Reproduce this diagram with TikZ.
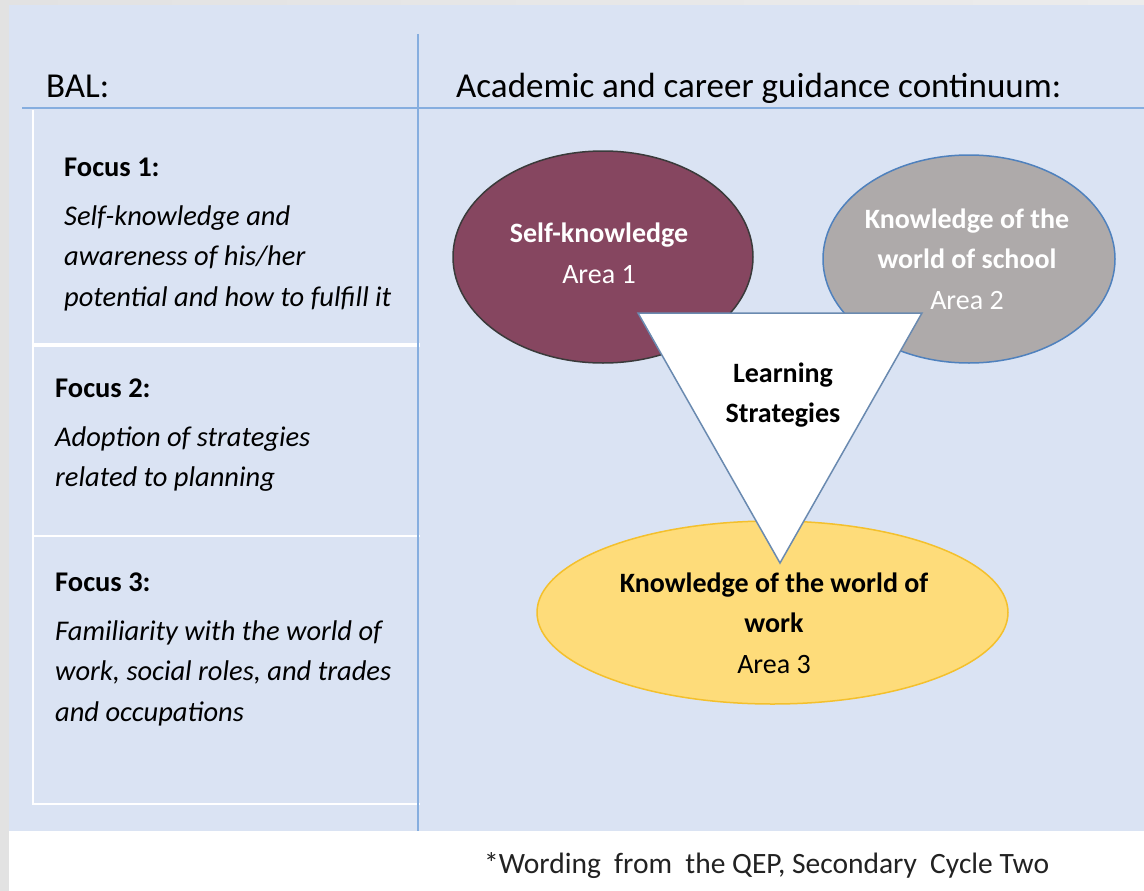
\documentclass[tikz,border=0pt]{standalone}
\usepackage{fontspec}
\setmainfont{Carlito}
\usetikzlibrary{shapes.geometric}
\definecolor{panel}{HTML}{DAE3F3}
\definecolor{outer}{HTML}{E2E2E2}
\definecolor{outerlight}{HTML}{ECECEC}
\definecolor{rulecol}{HTML}{86AEDF}
\definecolor{maroonfill}{HTML}{864660}
\definecolor{maroonedge}{HTML}{3A3A3A}
\definecolor{greyfill}{HTML}{AEAAAA}
\definecolor{greyedge}{HTML}{4F81BD}
\definecolor{yellowfill}{HTML}{FEDC7A}
\definecolor{yellowedge}{HTML}{F4C02C}
\definecolor{triedge}{HTML}{6A8AB0}
\definecolor{notecol}{HTML}{222222}
\begin{document}
\begin{tikzpicture}[x=1pt,y=-1pt,
  heading/.style={anchor=base west, font=\fontsize{35}{42}\selectfont, inner sep=0pt},
  focustitle/.style={anchor=base west, font=\bfseries\fontsize{28.5}{40.5}\selectfont, inner sep=0pt},
  focusbody/.style={anchor=base west, align=left, font=\itshape\fontsize{28.5}{40.5}\selectfont, inner sep=0pt},
  area/.style={ellipse, inner sep=0pt, line width=1.5pt},
  arealabel/.style={anchor=base, align=center, font=\fontsize{28}{40.5}\selectfont, inner sep=0pt},
  bluerule/.style={rulecol, line width=2pt},
  whiterule/.style={white, line width=2pt},
  tri/.style={fill=white, draw=triedge, line width=1.5pt, line join=miter}
]
\useasboundingbox (0,0) rectangle (1144,891);
% backgrounds
\fill[left color=outer, right color=outerlight] (0,0) rectangle (1144,891);
\fill[panel] (9,5) rectangle (1144,831);
\fill[white] (9,831) rectangle (1144,891);

% grid of the left column
\coordinate (wTL) at (33,110);
\coordinate (wBL) at (33,804);
\coordinate (w1L) at (33,345);
\coordinate (w1R) at (420,345);
\coordinate (w2L) at (33,536);
\coordinate (w2R) at (420,536);
\coordinate (w3R) at (420,804);
\draw[whiterule] (wTL) -- (wBL) -- (w3R);
\draw[white, line width=4.5pt] (w1L) -- (w1R);
\draw[whiterule] (w2L) -- (w2R);

% blue rules
\coordinate (hL) at (22,108);
\coordinate (hR) at (1144,108);
\coordinate (vT) at (418,34);
\coordinate (vB) at (418,831);
\draw[bluerule] (hL) -- (hR);
\draw[bluerule] (vT) -- (vB);

% headings
\node[heading] (bal) at (46,97) {BAL:};
\node[heading] (cont) at (456,97) {Academic and career guidance continuum:};

% focus texts (base anchor = baseline of the last line)
\node[focustitle] (f1) at (64,176) {Focus 1:};
\node[focusbody] (f1b) at (64,306) {Self-knowledge and\\awareness of his/her\\potential and how to fulfill it};
\node[focustitle] (f2) at (55,397) {Focus 2:};
\node[focusbody] (f2b) at (55,486.5) {Adoption of strategies\\related to planning};
\node[focustitle] (f3) at (55,591) {Focus 3:};
\node[focusbody] (f3b) at (55,721) {Familiarity with the world of\\work, social roles, and trades\\and occupations};

% areas
\node[area, fill=maroonfill, draw=maroonedge, minimum width=300, minimum height=212] (a1) at (603,257) {};
\node[area, fill=greyfill, draw=greyedge, minimum width=292, minimum height=208] (a2) at (969,259) {};
\node[area, fill=yellowfill, draw=yellowedge, minimum width=471, minimum height=183] (a3) at (772.5,612.5) {};

% learning strategies triangle
\coordinate (t1) at (638,313);
\coordinate (t2) at (922,313);
\coordinate (t3) at (780,563);
\draw[tri] (t1) -- (t2) -- (t3) -- cycle;

% labels
\node[arealabel, white] (a1t) at (599,283) {\textbf{Self-knowledge}\\Area 1};
\node[arealabel, white] (a2t) at (967,309) {\textbf{Knowledge of the}\\\textbf{world of school}\\Area 2};
\node[arealabel, black] (lst) at (783,422.5) {\textbf{Learning}\\\textbf{Strategies}};
\node[arealabel, black] (a3t) at (774,673) {\textbf{Knowledge of the world of}\\\textbf{work}\\Area 3};

% footnote
\node[anchor=base west, inner sep=0pt, text=notecol, font=\fontsize{29.5}{34}\selectfont] (note) at (484,873) {*Wording\hspace{0.45em}from\hspace{0.45em}the QEP, Secondary\hspace{0.45em}Cycle Two};
\end{tikzpicture}
\end{document}
